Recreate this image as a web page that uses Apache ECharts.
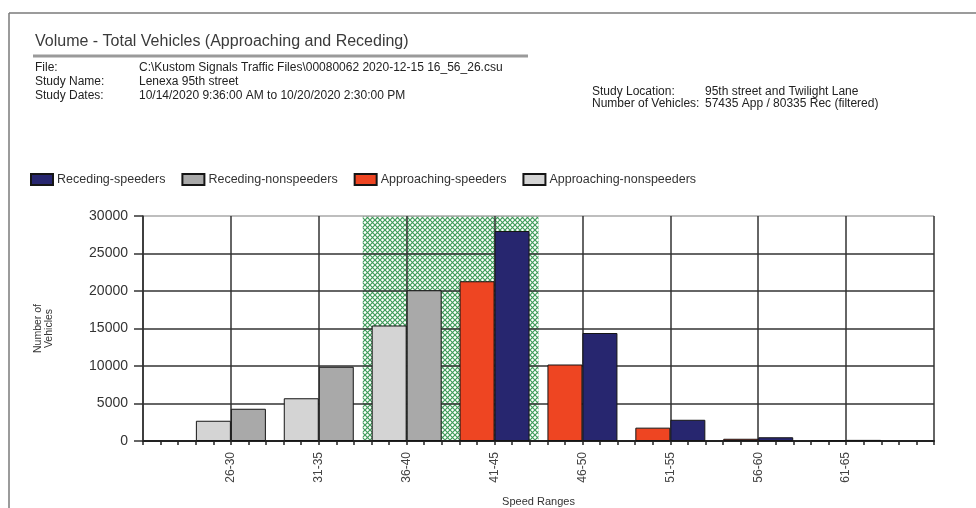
<!DOCTYPE html>
<html><head><meta charset="utf-8">
<script src="https://cdn.jsdelivr.net/npm/echarts@6/dist/echarts.min.js"></script>
<style>html,body{margin:0;padding:0;background:#fff}#c{width:976px;height:508px}</style>
</head><body><div id="c"></div>
<script>
// ---- data ----
const speedRanges = ['26-30','31-35','36-40','41-45','46-50','51-55','56-60','61-65'];
const approachingNonspeeders = [2700, 5700, 15400, 0, 0, 0, 0, 0];
const approachingSpeeders    = [0, 0, 0, 21300, 10200, 1780, 300, 80];
const recedingNonspeeders    = [4300, 9900, 20100, 0, 0, 0, 0, 0];
const recedingSpeeders       = [0, 0, 0, 28000, 14400, 2830, 500, 150];
const paceRange = [36, 45];          // shaded pace band (mph)
const speedAxisRange = [23, 68];     // mph at the plot edges (minor ticks every mph)
const yMax = 30000, yStep = 5000;

const titleText = 'Volume - Total Vehicles (Approaching and Receding)';
const infoLeft = [
  ['File:', 'C:\\Kustom Signals Traffic Files\\00080062 2020-12-15 16_56_26.csu'],
  ['Study Name:', 'Lenexa 95th street'],
  ['Study Dates:', '10/14/2020 9:36:00 AM to 10/20/2020 2:30:00 PM']
];
const infoRight = [
  ['Study Location:', '95th street and Twilight Lane'],
  ['Number of Vehicles:', '57435 App / 80335 Rec (filtered)']
];

// ---- chart ----
const FONT = '"Liberation Sans", Arial, sans-serif';
const pad = a => ['-', ...a.map(v => v === 0 ? '-' : v), '-'];
const cats = ['', ...speedRanges, ''];

const pc = document.createElement('canvas');
pc.width = 5; pc.height = 5;
const g = pc.getContext('2d');
g.fillStyle = '#ffffff'; g.fillRect(0, 0, 5, 5);
g.strokeStyle = '#3f9c5a'; g.lineWidth = 1.2;
g.beginPath(); g.moveTo(0, 0); g.lineTo(5, 5); g.moveTo(5, 0); g.lineTo(0, 5); g.stroke();

const INFO_FONT = '12px ' + FONT;
const graphics = [
  { type: 'line', shape: { x1: 9, y1: 13, x2: 976, y2: 13 }, style: { stroke: '#7a7a7a', lineWidth: 1.5 } },
  { type: 'line', shape: { x1: 9, y1: 13, x2: 9, y2: 508 }, style: { stroke: '#7a7a7a', lineWidth: 1.5 } },
  { type: 'text', x: 35, y: 42, style: { text: titleText, font: '16px ' + FONT, fill: '#3a3a3a', verticalAlign: 'middle' } },
  { type: 'line', shape: { x1: 33, y1: 56, x2: 528, y2: 56 }, style: { stroke: '#9a9a9a', lineWidth: 3 } }
];
infoLeft.forEach((r, i) => {
  graphics.push({ type: 'text', x: 35, y: 68 + i * 14, style: { text: r[0], font: INFO_FONT, fill: '#222', verticalAlign: 'middle' } });
  graphics.push({ type: 'text', x: 139, y: 68 + i * 14, style: { text: r[1], font: INFO_FONT, fill: '#222', verticalAlign: 'middle' } });
});
infoRight.forEach((r, i) => {
  graphics.push({ type: 'text', x: 592, y: 92 + i * 12, style: { text: r[0], font: INFO_FONT, fill: '#222', verticalAlign: 'middle' } });
  graphics.push({ type: 'text', x: 705, y: 92 + i * 12, style: { text: r[1], font: INFO_FONT, fill: '#222', verticalAlign: 'middle' } });
});

const barBase = { type: 'bar', xAxisIndex: 0, yAxisIndex: 0, barWidth: 35, barGap: '0%', z: 3 };

const chart = echarts.init(document.getElementById('c'), null, { renderer: 'canvas' });
chart.setOption({
  animation: false,
  backgroundColor: '#fff',
  textStyle: { fontFamily: FONT },
  graphic: graphics,
  legend: {
    left: 30, top: 173, padding: 0, itemWidth: 22, itemHeight: 11, itemGap: 16, icon: 'rect',
    data: ['Receding-speeders', 'Receding-nonspeeders', 'Approaching-speeders', 'Approaching-nonspeeders'],
    textStyle: { fontSize: 12.5, color: '#333', padding: [0, 0, 0, -1] }
  },
  grid: { left: 143, right: 42, top: 216, bottom: 63, containLabel: false },
  xAxis: [
    { type: 'category', data: cats, boundaryGap: false, z: 2,
      axisLine: { show: false }, axisTick: { show: false },
      axisLabel: { interval: 0, rotate: 90, fontSize: 12, margin: 11, color: '#444' },
      splitLine: { show: true, interval: 0, lineStyle: { color: '#333', width: 1.5 } },
      name: 'Speed Ranges', nameLocation: 'middle', nameGap: 55,
      nameTextStyle: { fontSize: 11, color: '#333' } },
    { type: 'value', min: speedAxisRange[0], max: speedAxisRange[1], interval: 1, position: 'bottom', z: 2,
      axisLine: { show: true, onZero: false, lineStyle: { color: '#222', width: 2 } },
      axisTick: { show: true, length: 4, lineStyle: { color: '#222', width: 1.5 } },
      axisLabel: { show: false }, splitLine: { show: false } }
  ],
  yAxis: {
    type: 'value', min: 0, max: yMax, interval: yStep, z: 2,
    axisLine: { show: true, lineStyle: { color: '#333', width: 1.5 } },
    axisTick: { show: true, length: 9, lineStyle: { color: '#333', width: 1.5 } },
    axisLabel: { fontSize: 14, margin: 15, color: '#333', formatter: v => String(v) },
    splitLine: { show: true, lineStyle: { color: ['#333', '#333', '#333', '#333', '#333', '#333', '#a8a8a8'], width: 1.5 } },
    name: 'Number of\nVehicles', nameLocation: 'middle', nameGap: 88, nameRotate: 90,
    nameTextStyle: { fontSize: 10.5, lineHeight: 11, color: '#333' }
  },
  series: [
    { type: 'line', xAxisIndex: 1, yAxisIndex: 0, data: [], z: 1, silent: true,
      markArea: { silent: true, z: 1, itemStyle: { color: { image: pc, repeat: 'repeat' } },
        data: [[{ xAxis: paceRange[0] - 0.5 }, { xAxis: paceRange[1] + 0.5 }]] } },
    Object.assign({}, barBase, { name: 'Approaching-nonspeeders', stack: 'app', data: pad(approachingNonspeeders),
      itemStyle: { color: '#d4d4d4', borderColor: '#151515', borderWidth: 1 } }),
    Object.assign({}, barBase, { name: 'Approaching-speeders', stack: 'app', data: pad(approachingSpeeders),
      itemStyle: { color: '#ee4522', borderColor: '#151515', borderWidth: 1 } }),
    Object.assign({}, barBase, { name: 'Receding-nonspeeders', stack: 'rec', data: pad(recedingNonspeeders),
      itemStyle: { color: '#a9a9a9', borderColor: '#151515', borderWidth: 1 } }),
    Object.assign({}, barBase, { name: 'Receding-speeders', stack: 'rec', data: pad(recedingSpeeders),
      itemStyle: { color: '#27266f', borderColor: '#151515', borderWidth: 1 } })
  ]
});
</script></body></html>
